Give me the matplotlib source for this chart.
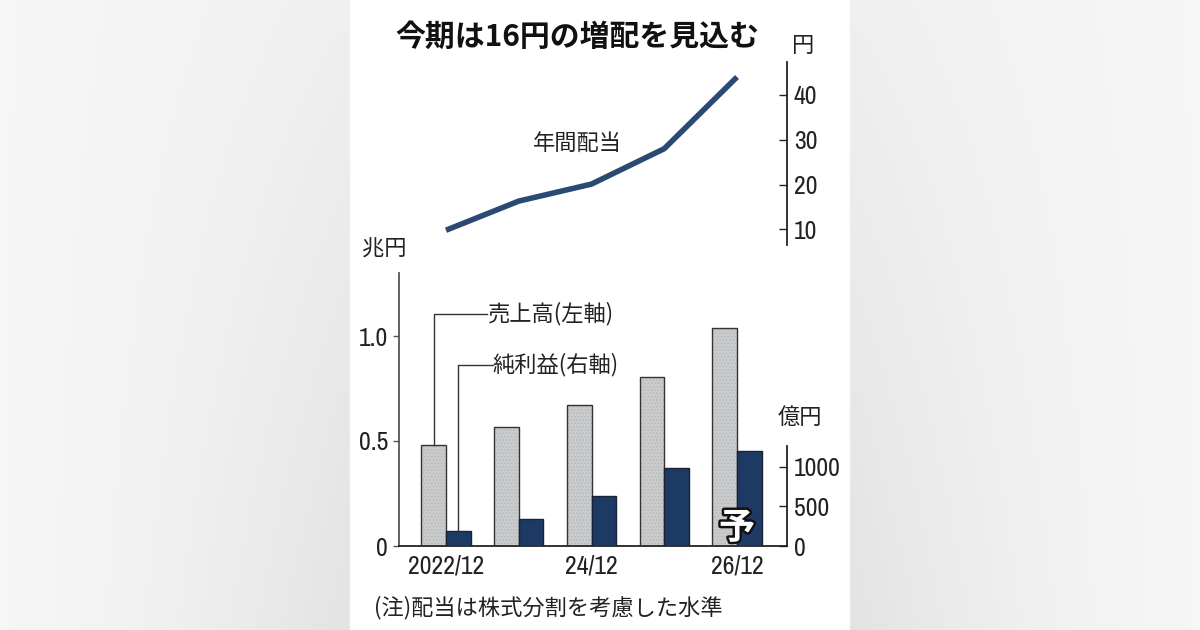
import numpy as np
import matplotlib
matplotlib.use("Agg")
import matplotlib.pyplot as plt
import matplotlib.patheffects as pe

plt.rcParams['font.family'] = ['Noto Sans CJK JP', 'DejaVu Sans']
NUM_FONT = ['Archivo Narrow', 'Noto Sans CJK JP', 'DejaVu Sans']
NUM_SIZE = 18.5

# ---------------- data ----------------
periods = ["2022/12", "23/12", "24/12", "25/12", "26/12"]
period_labels = ["2022/12", "", "24/12", "", "26/12"]
sales_trn_yen = [0.48, 0.565, 0.673, 0.805, 1.04]        # 売上高 (兆円, left axis)
net_income_oku_yen = [190, 346, 633, 978, 1199]          # 純利益 (億円, right axis)
dividend_yen = [9.8, 16.3, 20.1, 28.0, 44.0]             # 年間配当 (円)
left_ticks = [0, 0.5, 1.0]
left_tick_labels = ["0", "0.5", "1.0"]
right_ticks = [0, 500, 1000]
div_ticks = [10, 20, 30, 40]

# ---------------- style ----------------
GRAY_BAR = '#c9cbcd'
NAVY = '#1d3a64'
LINE = '#2b4a72'
DARK = '#222222'

W, H = 1200, 630
fig = plt.figure(figsize=(12, 6.3), dpi=100)

# background with gradient sides and white centre panel
bg = fig.add_axes([0, 0, 1, 1])
xs = np.linspace(0, W, 600)
ys = np.linspace(0, H, 315)
X, Y = np.meshgrid(xs, ys)
d = np.where(X < 350, 350 - X, np.where(X > 850, X - 850, 0))
close = np.clip(1 - d / 350.0, 0, 1)
val = 0.965 - 0.075 * close ** 1.5 * (0.35 + 0.65 * Y / H)
img = np.dstack([val, val, val])
img[(X >= 350) & (X <= 850)] = 1.0
bg.imshow(img, extent=[0, W, H, 0], aspect='auto', interpolation='bilinear')
bg.set_xlim(0, W)
bg.set_ylim(H, 0)
bg.axis('off')

def fx(px):
    return px / W

def fy(py):
    return 1 - py / H

x = np.arange(len(periods))
xlim = (-0.646, 4.687)
bw = 0.337

# ---------------- lower bar chart ----------------
ax = fig.add_axes([fx(399), fy(546), fx(787 - 399), (546 - 273) / H])
ax.set_facecolor('none')
ax.set_xlim(*xlim)
ax.set_ylim(0, 1.3)
ax2 = ax.twinx()
r_top = 1000 * 273 / 79.3
ax2.set_ylim(0, r_top)

plt.rcParams['hatch.linewidth'] = 0.6
ax.bar(x - bw / 2, sales_trn_yen, width=bw, color=GRAY_BAR, edgecolor='#b3b5b8',
       hatch='.....', linewidth=0, zorder=2)
ax.bar(x - bw / 2, sales_trn_yen, width=bw, fill=False, edgecolor='#333333',
       linewidth=1.0, zorder=3)
ax2.bar(x + bw / 2, net_income_oku_yen, width=bw, color=NAVY, edgecolor='#1a2233',
        linewidth=1.0, zorder=3)

for s in ['top', 'right']:
    ax.spines[s].set_visible(False)
for s in ['top', 'left', 'bottom']:
    ax2.spines[s].set_visible(False)
ax.spines['left'].set_color('#555555')
ax.spines['left'].set_linewidth(1.3)
ax.spines['bottom'].set_color('#222222')
ax.spines['bottom'].set_linewidth(1.3)
ax2.spines['right'].set_color('#222222')
ax2.spines['right'].set_linewidth(1.3)
ax2.spines['right'].set_bounds(0, 1266)

ax.set_yticks(left_ticks)
ax.set_yticklabels(left_tick_labels, family=NUM_FONT, fontsize=NUM_SIZE, color=DARK)
ax.tick_params(axis='y', direction='out', length=4, width=1, color='#555555', pad=4)
ax.set_xticks(x)
ax.set_xticklabels(period_labels, family=NUM_FONT, fontsize=NUM_SIZE, color=DARK)
ax.tick_params(axis='x', length=0, pad=6)

ax2.set_yticks(right_ticks)
ax2.set_yticklabels([str(v) for v in right_ticks], family=NUM_FONT, fontsize=NUM_SIZE, color=DARK)
ax2.tick_params(axis='y', direction='in', length=6, width=1, color='#222222', pad=5)

# leader lines & labels
to_left = 1.3 / r_top
y_sales_lbl = (546 - 314) / 210.0
y_net_lbl = (546 - 365) / 210.0
ax.plot([x[0] - bw / 2, x[0] - bw / 2, 0.57], [sales_trn_yen[0], y_sales_lbl, y_sales_lbl],
        color='#333333', lw=1.0, zorder=4, clip_on=False)
ax.text(0.575, y_sales_lbl, '売上高(左軸)', fontsize=16, va='center', ha='left', color=DARK)
ax.plot([x[0] + bw / 2, x[0] + bw / 2, 0.64],
        [net_income_oku_yen[0] * to_left, y_net_lbl, y_net_lbl],
        color='#333333', lw=1.0, zorder=4, clip_on=False)
ax.text(0.645, y_net_lbl, '純利益(右軸)', fontsize=16, va='center', ha='left', color=DARK)

# forecast mark (drawn on the top twin axes so it sits above the bars)
ax2.text(x[-1], 0.085 / to_left, '予', fontsize=26, fontweight='bold', color='white',
         ha='center', va='center', zorder=6,
         path_effects=[pe.withStroke(linewidth=3.5, foreground='#111111')])

# ---------------- upper line chart ----------------
axt = fig.add_axes([fx(399), fy(245), fx(787 - 399), (245 - 62) / H])
axt.set_facecolor('none')
axt.set_xlim(*xlim)
axt.set_ylim(6.5, 47.35)
axt.plot(x, dividend_yen, color=LINE, lw=4, solid_capstyle='butt', solid_joinstyle='round')
for s in ['top', 'left', 'bottom']:
    axt.spines[s].set_visible(False)
axt.spines['right'].set_color('#222222')
axt.spines['right'].set_linewidth(1.3)
axt.yaxis.tick_right()
axt.set_xticks([])
axt.set_yticks(div_ticks)
axt.set_yticklabels([str(v) for v in div_ticks], family=NUM_FONT, fontsize=NUM_SIZE, color=DARK)
axt.tick_params(axis='y', direction='in', length=6, width=1, color='#222222', pad=5)

# ---------------- texts ----------------
fig.text(fx(577), fy(37), '今期は16円の増配を見込む', fontsize=21.5, fontweight='bold',
         ha='center', va='center', color='#111111')
fig.text(fx(577), fy(143), '年間配当', fontsize=16, ha='center', va='center', color=DARK)
fig.text(fx(803), fy(45), '円', fontsize=16, ha='center', va='center', color=DARK)
fig.text(fx(362), fy(249), '兆円', fontsize=16, ha='left', va='center', color=DARK)
fig.text(fx(800), fy(417), '億円', fontsize=16, ha='center', va='center', color=DARK)
fig.text(fx(374), fy(608), '(注)配当は株式分割を考慮した水準', fontsize=16, ha='left',
         va='center', color=DARK)

fig.savefig('out.png', dpi=100)
